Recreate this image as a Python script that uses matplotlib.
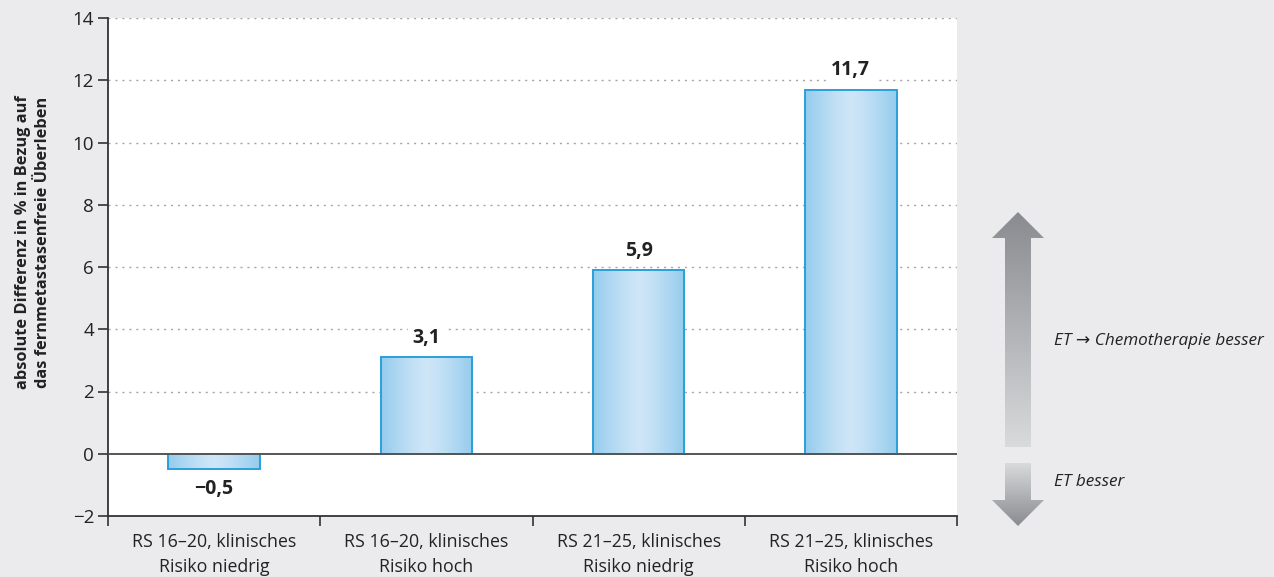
import matplotlib.pyplot as plt
import numpy as np
from matplotlib.patches import Polygon

plt.rcParams['font.family'] = ['Open Sans', 'Noto Sans', 'DejaVu Sans']

categories = [
    'RS 16\u201320, klinisches\nRisiko niedrig',
    'RS 16\u201320, klinisches\nRisiko hoch',
    'RS 21\u201325, klinisches\nRisiko niedrig',
    'RS 21\u201325, klinisches\nRisiko hoch',
]
values = [-0.5, 3.1, 5.9, 11.7]
y_ticks = [-2, 0, 2, 4, 6, 8, 10, 12, 14]
y_label = 'absolute Differenz in % in Bezug auf\ndas fernmetastasenfreie \u00dcberleben'
arrow_up_text = 'ET \u2192 Chemotherapie besser'
arrow_down_text = 'ET besser'

W, H = 1274, 577
fig = plt.figure(figsize=(W / 100, H / 100), dpi=100)
fig.patch.set_facecolor('#ebebed')

ax = fig.add_axes([108 / W, (H - 516) / H, (957 - 108) / W, 498 / H])
ax.set_facecolor('white')

x = np.arange(len(categories))
bars = ax.bar(x, values, width=0.43, color='none', edgecolor='#2b9fdb',
              linewidth=1.4, zorder=3)

# horizontal gradient fill: darker at the edges, light in the middle
grad = np.abs(np.linspace(-1, 1, 256)) ** 1.3
c_edge = np.array([0.58, 0.80, 0.93])
c_mid = np.array([0.81, 0.90, 0.97])
img = c_mid[None, :] * (1 - grad[:, None]) + c_edge[None, :] * grad[:, None]
img = img[None, :, :]
for b in bars:
    x0, y0 = b.get_x(), b.get_y()
    w, h = b.get_width(), b.get_height()
    im = ax.imshow(img, extent=[x0, x0 + w, y0, y0 + h], aspect='auto',
                   zorder=2, interpolation='bilinear')
    im.set_clip_path(b)

ax.set_xlim(-0.5, len(categories) - 0.5)
ax.set_ylim(-2, 14)

ax.set_yticks(y_ticks)
ax.set_yticklabels([str(t).replace('-', '\u2212') for t in y_ticks])
ax.tick_params(axis='y', length=7, width=1.2, color='#333333', pad=3,
               labelsize=13.5, labelcolor='#222222')

ax.set_xticks(x)
ax.set_xticklabels(categories, linespacing=1.5)
ax.set_xticks(np.arange(len(categories) + 1) - 0.5, minor=True)
ax.tick_params(axis='x', which='major', length=0, pad=12.5, labelsize=12.8,
               labelcolor='#222222')
ax.tick_params(axis='x', which='minor', length=7, width=1.2, color='#333333')

for s in ['top', 'right']:
    ax.spines[s].set_visible(False)
for s in ['left', 'bottom']:
    ax.spines[s].set_color('#333333')
    ax.spines[s].set_linewidth(1.3)

for t in y_ticks[2:]:
    ax.axhline(t, color='#a6a6a6', lw=1.0, ls=(0, (1.5, 3.5)), zorder=1)
ax.axhline(0, color='#555555', lw=1.4, zorder=4)

for xi, v in zip(x, values):
    off = 14 if v >= 0 else -14
    ax.annotate(f'{v:.1f}'.replace('.', ',').replace('-', '\u2212'),
                (xi, v), xytext=(0, off), textcoords='offset points',
                ha='center', va='center', fontsize=14, fontweight='bold',
                color='#222222', zorder=5,
                bbox=dict(boxstyle='square,pad=0.25', fc='white', ec='none'))

fig.text(33 / W, 1 - 242 / H, y_label, rotation=90, ha='center', va='center',
         fontsize=11.8, fontweight='bold', color='#222222', linespacing=1.3)

# gradient arrows on the right, in pixel coordinates
ov = fig.add_axes([0, 0, 1, 1], zorder=-1)
ov.axis('off')
ov.patch.set_alpha(0)

dark = np.array([0.54, 0.545, 0.565])
light = np.array([0.85, 0.855, 0.86])


def grad_arrow(poly, y_dark, y_light):
    p = Polygon(poly, closed=True, fc='none', ec='none')
    ov.add_patch(p)
    t = np.linspace(0, 1, 256)[:, None]
    g = (dark * (1 - t) + light * t)[:, None, :]
    ys = sorted([y_dark, y_light])
    if y_dark > y_light:
        g = g[::-1]
    im = ov.imshow(g, extent=[990, 1046, ys[1], ys[0]], aspect='auto',
                   interpolation='bilinear')
    im.set_clip_path(p)


cx = 1018
up = [(cx, 212), (cx + 26, 238), (cx + 13, 238), (cx + 13, 447),
      (cx - 13, 447), (cx - 13, 238), (cx - 26, 238)]
down = [(cx - 13, 463), (cx + 13, 463), (cx + 13, 500), (cx + 26, 500),
        (cx, 526), (cx - 26, 500), (cx - 13, 500)]
grad_arrow(up, 212, 447)
grad_arrow(down, 526, 463)
ov.set_xlim(0, W)
ov.set_ylim(H, 0)

fig.text(1054 / W, 1 - 341 / H, arrow_up_text, style='italic', fontsize=12.3,
         color='#222222', va='center', ha='left')
fig.text(1054 / W, 1 - 482 / H, arrow_down_text, style='italic', fontsize=12.3,
         color='#222222', va='center', ha='left')

fig.savefig('out.png', dpi=100, facecolor=fig.get_facecolor())
